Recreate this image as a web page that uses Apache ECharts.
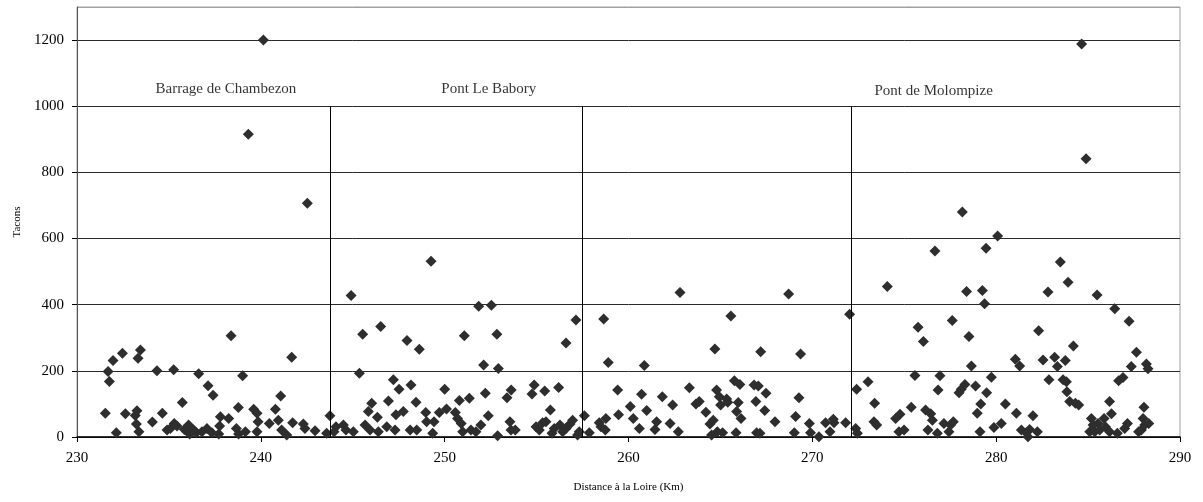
<!DOCTYPE html>
<html>
<head>
<meta charset="utf-8">
<title>Tacons - Distance à la Loire</title>
<script src="https://cdn.jsdelivr.net/npm/echarts@6/dist/echarts.min.js"></script>
<style>
  html, body { margin: 0; padding: 0; background: #ffffff; }
  #chart { width: 1203px; height: 502px; }
</style>
</head>
<body>
<div id="chart"></div>
<script>
// Distance from the Loire confluence (km) of each sampled station
const distKm = [
  231.54, 231.69, 231.76, 231.96, 232.14, 232.47, 232.63, 233.17, 233.26, 233.23,
  233.37, 233.32, 233.45, 234.10, 234.35, 234.64, 234.90, 235.08, 235.26, 235.29,
  235.44, 235.73, 235.84, 236.07, 236.13, 236.35, 236.49, 236.62, 236.80, 237.07,
  237.13, 237.34, 237.40, 237.71, 237.76, 237.80, 238.25, 238.38, 238.67, 238.78,
  238.79, 239.01, 239.16, 239.32, 239.61, 239.79, 239.85, 239.79, 240.14,
  240.46, 240.79, 241.08, 240.95, 241.13, 241.41, 241.68, 241.73, 242.31, 242.40,
  242.53, 242.95, 243.58, 243.76, 243.98, 244.09, 244.49, 244.63, 244.91, 245.03,
  245.36, 245.54, 245.67, 245.85, 245.94, 246.03, 246.34, 246.39, 246.52, 246.85,
  246.94, 247.21, 247.30, 247.35, 247.52, 247.75, 247.95, 248.12, 248.17, 248.44,
  248.48, 248.62, 248.97, 249.02, 249.26, 249.35, 249.42, 249.71, 250.00, 250.10,
  250.58, 250.80, 250.70, 250.90, 250.98, 251.07, 251.34, 251.43, 251.70, 251.85,
  251.97, 252.12, 252.21, 252.37, 252.54, 252.84, 252.92, 252.88, 253.39, 253.62,
  253.55, 253.61, 253.84, 254.75, 254.87, 254.97, 255.15, 255.33, 255.44, 255.51,
  255.75, 255.84, 255.96, 256.20, 256.27, 256.42, 256.60, 256.60, 256.82, 256.96,
  257.14, 257.23, 257.32, 257.60, 257.87, 258.41, 258.50, 258.65, 258.77, 258.74,
  258.90, 259.41, 259.46, 260.10,
  260.26, 260.59, 260.71, 260.86, 260.99, 261.44, 261.53, 261.84, 262.26, 262.40,
  262.71, 262.80, 263.31, 263.67, 263.85, 264.21, 264.43, 264.52, 264.61, 264.70,
  264.79, 264.83, 264.94, 265.01, 265.12, 265.34, 265.40, 265.57, 265.76, 265.85,
  265.88, 265.97, 266.06, 266.12, 266.83, 266.93, 266.97, 267.06, 267.15, 267.19,
  267.41, 267.48, 267.97, 268.71, 269.02, 269.09, 269.27, 269.36, 269.84, 269.90,
  270.36, 270.72, 270.96, 271.14, 271.18, 271.81, 272.03, 272.36, 272.45, 272.41,
  273.03, 273.35, 273.39, 273.50, 274.08, 274.53, 274.71, 274.77, 274.99, 275.38,
  275.58, 275.75, 276.04, 276.16, 276.29, 276.44, 276.53, 276.67, 276.80, 276.84,
  276.94, 277.16, 277.43, 277.52, 277.61, 277.67, 277.98, 278.10, 278.16, 278.30,
  278.39, 278.52, 278.65, 278.88, 278.97, 279.12, 279.16, 279.25, 279.37, 279.45,
  279.48, 279.74, 279.88,
  280.08, 280.28, 280.50, 281.04, 281.10, 281.28, 281.37, 281.64, 281.73, 281.82,
  282.00, 282.24, 282.31, 282.55, 282.82, 282.87, 283.18, 283.33, 283.49, 283.64,
  283.76, 283.82, 283.85, 283.91, 284.00, 284.20, 284.31, 284.49, 284.65, 284.89,
  285.09, 285.18, 285.27, 285.36, 285.49, 285.54, 285.63, 285.87, 285.94, 286.17,
  286.17, 286.27, 286.45, 286.59, 286.66, 286.90, 286.99, 287.14, 287.23, 287.35,
  287.63, 287.75, 287.90, 287.99, 288.04, 288.08, 288.17, 288.26, 288.30
];

// Number of juvenile salmon (tacons) counted at each station
const tacons = [
  72, 198, 168, 231, 13, 253, 70, 65, 79, 39,
  16, 238, 263, 45, 200, 72, 21, 26, 203, 41,
  33, 104, 23, 36, 9, 21, 13, 191, 16, 26,
  155, 13, 126, 9, 33, 61, 56, 306, 26, 89,
  9, 185, 16, 915, 84, 72, 46, 16, 1200,
  41, 84, 124, 51, 21, 6, 241, 43, 39, 26,
  707, 19, 11, 64, 16, 31, 36, 21, 428, 16,
  193, 311, 36, 77, 21, 102, 60, 16, 334, 31,
  109, 173, 21, 67, 144, 77, 292, 21, 157, 105,
  21, 265, 74, 46, 531, 11, 46, 74, 144, 85,
  74, 110, 56, 41, 16, 306, 117, 21, 16, 395,
  36, 218, 132, 64, 398, 311, 207, 4, 119, 142,
  46, 21, 21, 130, 157, 31, 21, 43, 139, 46,
  82, 11, 26, 150, 36, 16, 284, 26, 39, 51,
  354, 6, 16, 64, 13, 43, 31, 357, 56, 21,
  225, 142, 67, 92,
  56, 26, 129, 216, 80, 23, 46, 122, 41, 97,
  16, 437, 149, 100, 107, 75, 39, 6, 51, 266,
  142, 16, 122, 97, 13, 115, 105, 366, 170, 13,
  77, 104, 159, 56, 157, 107, 13, 154, 11, 258,
  80, 132, 46, 432, 13, 62, 119, 251, 41, 13,
  1, 43, 16, 54, 43, 43, 371, 26, 11, 144,
  167, 46, 102, 36, 455, 56, 16, 69, 21, 90,
  186, 332, 289, 82, 21, 70, 51, 562, 11, 142,
  185, 41, 16, 36, 352, 46, 134, 144, 680, 159,
  440, 304, 215, 154, 72, 16, 100, 443, 403, 571,
  134, 181, 29,
  608, 41, 100, 235, 72, 215, 21, 13, 1, 23,
  64, 16, 321, 233, 438, 173, 241, 213, 529, 173,
  231, 167, 137, 468, 107, 275, 102, 97, 1188, 841,
  16, 56, 36, 16, 429, 41, 21, 56, 31, 107,
  16, 70, 388, 11, 170, 180, 26, 41, 350, 213,
  256, 16, 21, 56, 90, 36, 221, 206, 41
];

// Weirs / bridges along the river (km) and their names
const siteKm = [243.8, 257.5, 272.1];
const siteNames = ['Barrage de Chambezon', 'Pont Le Babory', 'Pont de Molompize'];
// Where each site name is written (km, count level)
const siteLabelKm = [238.1, 252.4, 276.6];
const siteLabelLevel = [1052, 1052, 1045];
const siteLineTop = 1000;

// Axis scales
const xMin = 230, xMax = 290, xStep = 10;
const yMin = 0, yMax = 1300, yStep = 200;

const serif = 'Liberation Serif';
const points = distKm.map((d, i) => [d, tacons[i]]);
const nYTicks = Math.floor((yMax - yMin) / yStep) + 2;
const gridColors = Array.from({ length: nYTicks }, (_, i) => i === nYTicks - 1 ? '#a0a0a0' : '#2a2a2a');

const chart = echarts.init(document.getElementById('chart'), null, { renderer: 'canvas' });
chart.setOption({
  animation: false,
  backgroundColor: '#ffffff',
  grid: {
    left: 77, right: 23, top: 7, bottom: 65,
    show: true, borderColor: '#a0a0a0', borderWidth: 1, backgroundColor: 'transparent'
  },
  xAxis: {
    type: 'value', min: xMin, max: xMax, interval: xStep,
    name: 'Distance à la Loire (Km)', nameLocation: 'middle', nameGap: 45,
    nameTextStyle: { fontFamily: serif, fontSize: 11, color: '#000' },
    axisLine: { show: true, onZero: false, lineStyle: { color: '#000', width: 1.5 } },
    axisTick: { show: true, length: 5, lineStyle: { color: '#000' } },
    axisLabel: { fontFamily: serif, fontSize: 15, color: '#000', margin: 14 },
    splitLine: { show: false }
  },
  yAxis: {
    type: 'value', min: yMin, max: yMax, interval: yStep,
    name: 'Tacons', nameLocation: 'middle', nameGap: 53,
    nameTextStyle: { fontFamily: serif, fontSize: 11, color: '#000' },
    axisLine: { show: true, lineStyle: { color: '#555', width: 1 } },
    axisTick: { show: true, length: 5, lineStyle: { color: '#000' } },
    axisLabel: { fontFamily: serif, fontSize: 15, color: '#000', margin: 13, showMaxLabel: false,
      formatter: v => (v % yStep === 0 ? String(v) : '') },
    splitLine: { show: true, lineStyle: { color: gridColors, width: 1 } }
  },
  series: [
    {
      type: 'scatter',
      data: points,
      symbol: 'diamond',
      symbolSize: 11,
      itemStyle: { color: '#2e2e2e', opacity: 1 },
      markLine: {
        silent: true,
        symbol: ['none', 'none'],
        label: { show: false },
        lineStyle: { color: '#000', type: 'solid', width: 1 },
        data: siteKm.map(k => [{ coord: [k, yMin] }, { coord: [k, siteLineTop] }])
      }
    },
    {
      type: 'scatter',
      silent: true,
      symbolSize: 1,
      itemStyle: { color: 'rgba(0,0,0,0)' },
      data: siteNames.map((n, i) => ({ name: n, value: [siteLabelKm[i], siteLabelLevel[i]] })),
      label: {
        show: true, position: 'inside', formatter: p => p.name,
        fontFamily: serif, fontSize: 15, color: '#000'
      }
    }
  ]
});
</script>
</body>
</html>
